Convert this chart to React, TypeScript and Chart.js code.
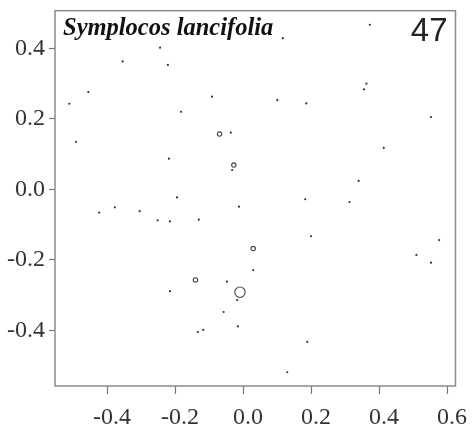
import React, { useEffect, useRef } from "react";
import { Chart, registerables } from "chart.js";

Chart.register(...registerables);

// Ordination scores of the plots (axis 1, axis 2)
const dotX = [
  -0.244, -0.354, -0.221, -0.455, -0.511, -0.091, -0.182, -0.036, -0.491, -0.218,
  -0.032, -0.194, 0.373, 0.117, 0.363, 0.356, 0.101, 0.186, 0.553, 0.414,
  0.340, 0.183, -0.012, -0.377, -0.423, -0.304, -0.251, -0.215, -0.130, 0.030,
  -0.047, -0.017, -0.215, -0.057, -0.015, -0.133, -0.117, 0.313, 0.200, 0.577,
  0.510, 0.553, 0.189, 0.130,
];
const dotY = [
  0.402, 0.363, 0.353, 0.276, 0.243, 0.263, 0.220, 0.161, 0.135, 0.087,
  0.055, -0.023, 0.467, 0.429, 0.300, 0.284, 0.253, 0.244, 0.205, 0.118,
  0.024, -0.028, -0.049, -0.051, -0.066, -0.062, -0.088, -0.091, -0.086, -0.229,
  -0.262, -0.314, -0.289, -0.348, -0.389, -0.405, -0.399, -0.036, -0.133, -0.144,
  -0.186, -0.208, -0.433, -0.519,
];

// Plots where the species occurs; symbol radius grows with abundance
const occX = [-0.069, -0.027, 0.030, -0.140, -0.009];
const occY = [0.157, 0.069, -0.168, -0.257, -0.292];
const occSize = [2.2, 2.2, 2.2, 2.2, 5.2];

const xTicks = [-0.4, -0.2, 0.0, 0.2, 0.4, 0.6];
const yTicks = [-0.4, -0.2, 0.0, 0.2, 0.4];
const xRange = [-0.553, 0.625];
const yRange = [-0.558, 0.507];

const speciesName = "Symplocos lancifolia";
const panelNumber = "47";

const frameAndLabels = {
  id: "frameAndLabels",
  afterDraw(chart: any) {
    const { ctx, chartArea } = chart;
    ctx.save();
    ctx.strokeStyle = "#8a8a8a";
    ctx.lineWidth = 1.5;
    ctx.strokeRect(
      chartArea.left,
      chartArea.top,
      chartArea.right - chartArea.left,
      chartArea.bottom - chartArea.top
    );
    ctx.fillStyle = "#111";
    ctx.textBaseline = "alphabetic";
    ctx.textAlign = "left";
    ctx.font = "italic bold 24.5px 'Liberation Serif', 'Times New Roman', serif";
    ctx.fillText(speciesName, chartArea.left + 8, chartArea.top + 24);
    ctx.fillStyle = "#222";
    ctx.textAlign = "right";
    ctx.font = "33px 'Liberation Sans', Arial, sans-serif";
    ctx.fillText(panelNumber, chartArea.right - 8, chartArea.top + 30);
    ctx.restore();
  },
};

export default function App() {
  const canvasRef = useRef<HTMLCanvasElement | null>(null);

  useEffect(() => {
    if (!canvasRef.current) return;
    const tickFont = { family: "'Liberation Serif', 'Times New Roman', serif", size: 24 };
    const chart = new Chart(canvasRef.current, {
      type: "scatter",
      data: {
        datasets: [
          {
            data: dotX.map((x, i) => ({ x, y: dotY[i] })),
            pointRadius: 1.1,
            pointBorderWidth: 0,
            pointBackgroundColor: "#333",
            pointHoverRadius: 1.1,
          },
          {
            data: occX.map((x, i) => ({ x, y: occY[i] })),
            pointRadius: occSize,
            pointBorderWidth: 1.1,
            pointBorderColor: "#444",
            pointBackgroundColor: "rgba(0,0,0,0)",
          },
        ],
      },
      options: {
        animation: false,
        responsive: true,
        maintainAspectRatio: false,
        layout: { padding: { top: 10.7, right: 20.5, left: 0, bottom: 0 } },
        plugins: { legend: { display: false }, tooltip: { enabled: false } },
        scales: {
          x: {
            type: "linear",
            min: xRange[0],
            max: xRange[1],
            afterBuildTicks: (scale: any) => {
              scale.ticks = xTicks.map((v) => ({ value: v }));
            },
            afterFit: (scale: any) => {
              scale.height = 45;
              scale.paddingLeft = 0;
              scale.paddingRight = 0;
            },
            grid: {
              display: true,
              drawOnChartArea: false,
              drawTicks: true,
              tickLength: 8,
              tickColor: "#777",
              tickWidth: 1.2,
            },
            border: { display: false },
            ticks: {
              autoSkip: false,
              maxRotation: 0,
              padding: 9,
              labelOffset: 5,
              color: "#333",
              font: tickFont,
              callback: (v: any) => Number(v).toFixed(1),
            },
          },
          y: {
            type: "linear",
            min: yRange[0],
            max: yRange[1],
            afterBuildTicks: (scale: any) => {
              scale.ticks = yTicks.map((v) => ({ value: v }));
            },
            afterFit: (scale: any) => {
              scale.width = 55;
              scale.paddingTop = 0;
              scale.paddingBottom = 0;
            },
            grid: {
              display: true,
              drawOnChartArea: false,
              drawTicks: true,
              tickLength: 6,
              tickColor: "#777",
              tickWidth: 1.2,
            },
            border: { display: false },
            ticks: {
              autoSkip: false,
              padding: 4,
              color: "#333",
              font: tickFont,
              callback: (v: any) => Number(v).toFixed(1),
            },
          },
        },
      },
      plugins: [frameAndLabels],
    });
    return () => chart.destroy();
  }, []);

  return (
    <div
      style={{
        position: "fixed",
        left: 0,
        top: 0,
        width: 476,
        height: 431,
        background: "#fff",
      }}
    >
      <canvas ref={canvasRef} />
    </div>
  );
}
